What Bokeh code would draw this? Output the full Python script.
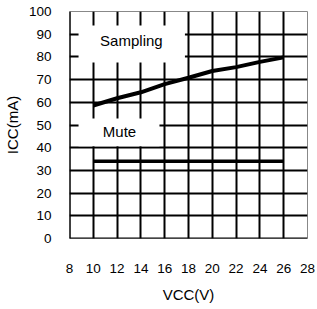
from bokeh.plotting import figure
from bokeh.models import FixedTicker, Span, Label, BoxAnnotation
from bokeh.embed import file_html
from bokeh.resources import INLINE

# data
vcc = [10, 12, 14, 16, 18, 20, 22, 24, 26]
icc_sampling = [58.6, 61.8, 64.4, 68.0, 70.8, 73.8, 75.5, 77.8, 79.8]
vcc_mute = [10, 26]
icc_mute = [34, 34]
x_ticks = [8, 10, 12, 14, 16, 18, 20, 22, 24, 26, 28]
y_ticks = [0, 10, 20, 30, 40, 50, 60, 70, 80, 90, 100]

FONT = "Liberation Sans"

p = figure(frame_width=238, frame_height=227, x_range=(8, 28), y_range=(0, 100),
           output_backend="svg", toolbar_location=None,
           min_border_left=61, min_border_right=8, min_border_top=11, min_border_bottom=60)
p.background_fill_color = "white"
p.border_fill_color = "white"
p.outline_line_color = "#888888"
p.outline_line_width = 1

p.xgrid.ticker = FixedTicker(ticks=x_ticks[1:-1])
p.ygrid.ticker = FixedTicker(ticks=y_ticks[1:-1])
for g in (p.xgrid, p.ygrid):
    g.grid_line_color = "black"
    g.grid_line_width = 2
    g.grid_line_alpha = 1

p.xaxis.ticker = FixedTicker(ticks=x_ticks)
p.yaxis.ticker = FixedTicker(ticks=y_ticks)
for ax in (p.xaxis, p.yaxis):
    ax.axis_line_color = None
    ax.major_tick_line_color = None
    ax.minor_tick_line_color = None
    ax.major_label_text_font = FONT
    ax.major_label_text_font_size = "13.5px"
    ax.major_label_text_color = "black"
    ax.axis_label_text_font = FONT
    ax.axis_label_text_font_size = "15px"
    ax.axis_label_text_font_style = "normal"
    ax.axis_label_text_color = "black"
p.xaxis.major_label_standoff = 19
p.yaxis.major_label_standoff = 12
p.xaxis.axis_label = "VCC(V)"
p.yaxis.axis_label = "ICC(mA)"
p.xaxis.axis_label_standoff = 10
p.yaxis.axis_label_standoff = 5

p.add_layout(Span(location=8, dimension="height", line_color="black", line_width=2.5))
p.add_layout(Span(location=0, dimension="width", line_color="black", line_width=2))

p.line(vcc, icc_sampling, line_color="black", line_width=4)
p.line(vcc_mute, icc_mute, line_color="black", line_width=3.5)

p.add_layout(BoxAnnotation(left=8.76, right=17.7, bottom=77.5, top=93.8,
                           fill_color="white", fill_alpha=1, line_color=None))
p.add_layout(BoxAnnotation(left=8.76, right=15.56, bottom=40.6, top=52.9,
                           fill_color="white", fill_alpha=1, line_color=None))
p.add_layout(Label(x=13.2, y=87.2, text="Sampling", text_font=FONT, text_font_size="15px",
                   text_align="center", text_baseline="middle", text_color="black"))
p.add_layout(Label(x=12.2, y=47.1, text="Mute", text_font=FONT, text_font_size="15px",
                   text_align="center", text_baseline="middle", text_color="black"))

open("out.html", "w").write(file_html(p, INLINE))
